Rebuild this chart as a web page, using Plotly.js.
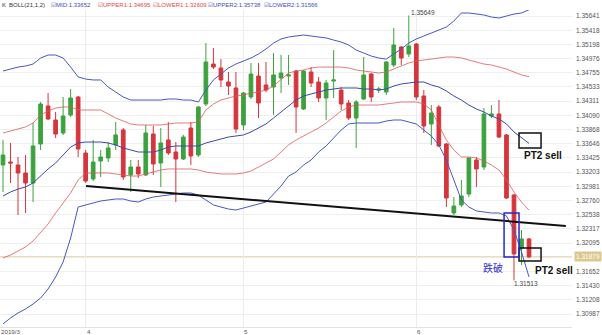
<!DOCTYPE html>
<html><head><meta charset="utf-8">
<script src="https://cdn.plot.ly/plotly-3.0.1.min.js"></script>
<style>html,body{margin:0;padding:0;background:#fff;}#chart{width:602px;height:335px;}</style>
</head><body><div id="chart"></div>
<script>
// ---- data ----
const openP = [1.33314,1.33361,1.33314,1.33189,1.33033,1.33642,1.34236,1.34017,1.33814,1.34095,
1.34376,1.33502,1.33096,1.33377,1.33424,1.33627,1.33861,1.33158,1.33283,1.33158,
1.33798,1.33345,1.33705,1.33517,1.33408,1.33892,1.33470,1.34267,1.34891,1.34829,
1.34610,1.34517,1.33939,1.34376,1.34704,1.34564,1.34532,1.34673,1.34704,1.34782,
1.34189,1.34767,1.34610,1.34361,1.34626,1.34485,1.34282,1.34048,1.34345,1.34735,
1.34485,1.34454,1.34876,1.35157,1.35048,1.35204,1.34392,1.33955,1.34220,1.33642,
1.32565,1.32690,1.32861,1.33392,1.33283,1.34079,1.34111,1.33783,1.32846,1.32018,1.32159];
const highP = [1.33705,1.33658,1.33439,1.33470,1.33970,1.34298,1.34439,1.34142,1.34376,1.34501,
1.34392,1.33548,1.33705,1.33548,1.33673,1.33986,1.33892,1.33392,1.33392,1.33939,
1.33923,1.33892,1.33986,1.33673,1.33783,1.33986,1.34236,1.35219,1.35141,1.34969,
1.34767,1.34767,1.34454,1.34907,1.34907,1.34923,1.35063,1.35032,1.35032,1.34798,
1.34798,1.34844,1.34689,1.34642,1.35110,1.34532,1.34329,1.34329,1.35001,1.34751,
1.34532,1.34938,1.35454,1.35173,1.35649,1.35219,1.34485,1.34251,1.34251,1.33658,
1.32814,1.33080,1.33439,1.33439,1.34204,1.34251,1.34329,1.33798,1.32861,1.32299,1.32174];
const lowP = [1.32893,1.33033,1.32533,1.32565,1.32736,1.33548,1.34017,1.33736,1.33783,1.34064,
1.33439,1.33033,1.33064,1.33127,1.33361,1.33548,1.33080,1.32893,1.33111,1.33142,
1.33158,1.32971,1.33470,1.32736,1.33392,1.33314,1.33439,1.34236,1.34813,1.34532,
1.34407,1.33814,1.33861,1.34345,1.34048,1.34454,1.34095,1.34439,1.34564,1.33814,
1.34173,1.34532,1.34298,1.34017,1.34361,1.34173,1.34017,1.33580,1.34329,1.34298,
1.34439,1.34407,1.34844,1.34876,1.35001,1.34329,1.33814,1.33627,1.33595,1.32658,
1.32533,1.32658,1.32814,1.32971,1.33236,1.34048,1.33736,1.32783,1.31513,1.31753,1.31862];
const closeP = [1.33470,1.33345,1.33189,1.33033,1.33611,1.34267,1.34033,1.33798,1.34079,1.34361,
1.33564,1.33064,1.33361,1.33439,1.33580,1.33783,1.33127,1.33283,1.33174,1.33814,
1.33330,1.33658,1.33502,1.33408,1.33751,1.33455,1.34220,1.34923,1.34844,1.34642,
1.34548,1.33876,1.34439,1.34735,1.34282,1.34485,1.34720,1.34751,1.34720,1.34220,
1.34782,1.34595,1.34361,1.34595,1.34642,1.34267,1.34048,1.34298,1.34720,1.34376,
1.34501,1.34923,1.35188,1.34985,1.35173,1.34376,1.33923,1.34126,1.33611,1.32799,
1.32674,1.32830,1.33424,1.33252,1.34111,1.34111,1.33751,1.32799,1.31924,1.32159,1.31879];

const upper2 = [1.34782,1.34813,1.34844,1.34860,1.34891,1.34985,1.35032,1.35032,1.34985,1.34844,
1.34689,1.34657,1.34642,1.34642,1.34532,1.34454,1.34376,1.34329,1.34329,1.34329,
1.34329,1.34329,1.34345,1.34345,1.34329,1.34329,1.34298,1.34485,1.34642,1.34735,
1.34829,1.34891,1.34938,1.34985,1.35048,1.35126,1.35219,1.35282,1.35313,1.35329,
1.35344,1.35329,1.35313,1.35298,1.35266,1.35235,1.35188,1.35110,1.35063,1.35016,
1.34985,1.34969,1.35048,1.35126,1.35219,1.35282,1.35329,1.35376,1.35422,1.35469,
1.35563,1.35688,1.35688,1.35672,1.35657,1.35625,1.35610,1.35641,1.35672,1.35688,1.35738];
const upper1 = [1.33814,1.33845,1.33876,1.33908,1.33970,1.34095,1.34158,1.34204,1.34220,1.34220,
1.34173,1.34173,1.34173,1.34173,1.34111,1.34048,1.34001,1.33955,1.33939,1.33939,
1.33939,1.33939,1.33955,1.33970,1.33970,1.33970,1.33986,1.34173,1.34267,1.34329,
1.34361,1.34392,1.34407,1.34439,1.34454,1.34485,1.34548,1.34642,1.34751,1.34782,
1.34798,1.34829,1.34844,1.34844,1.34844,1.34844,1.34829,1.34798,1.34782,1.34767,
1.34751,1.34767,1.34813,1.34860,1.34907,1.34938,1.34954,1.34969,1.34985,1.35001,
1.35001,1.34985,1.34954,1.34923,1.34891,1.34876,1.34844,1.34813,1.34767,1.34720,1.34695];
const mid = [1.32830,1.32893,1.32939,1.32971,1.33033,1.33142,1.33252,1.33345,1.33470,1.33595,
1.33658,1.33673,1.33673,1.33673,1.33658,1.33627,1.33580,1.33548,1.33517,1.33517,
1.33517,1.33548,1.33595,1.33611,1.33611,1.33611,1.33611,1.33658,1.33689,1.33720,
1.33751,1.33767,1.33783,1.33830,1.33892,1.33955,1.34048,1.34142,1.34236,1.34329,
1.34392,1.34423,1.34454,1.34485,1.34501,1.34517,1.34517,1.34517,1.34501,1.34501,
1.34485,1.34501,1.34548,1.34579,1.34595,1.34610,1.34610,1.34564,1.34532,1.34470,
1.34392,1.34329,1.34251,1.34189,1.34142,1.34079,1.34033,1.33955,1.33830,1.33736,1.33652];
const lower1 = [1.31862,1.31909,1.31971,1.32034,1.32127,1.32252,1.32393,1.32565,1.32721,1.32877,
1.33080,1.33189,1.33189,1.33189,1.33189,1.33174,1.33158,1.33142,1.33142,1.33174,
1.33205,1.33236,1.33252,1.33252,1.33252,1.33252,1.33236,1.33205,1.33189,1.33174,
1.33174,1.33174,1.33189,1.33220,1.33283,1.33345,1.33408,1.33517,1.33627,1.33705,
1.33767,1.33830,1.33892,1.33970,1.34064,1.34158,1.34220,1.34251,1.34251,1.34251,
1.34251,1.34267,1.34282,1.34298,1.34298,1.34298,1.34267,1.34173,1.33939,1.33705,
1.33548,1.33439,1.33439,1.33424,1.33377,1.33314,1.33236,1.33080,1.32893,1.32736,1.32609];
const lower2 = [1.30831,1.30925,1.31003,1.31065,1.31143,1.31237,1.31378,1.31565,1.31799,1.32174,
1.32658,1.32690,1.32721,1.32752,1.32768,1.32783,1.32783,1.32752,1.32736,1.32783,
1.32814,1.32830,1.32846,1.32861,1.32877,1.32877,1.32846,1.32768,1.32690,1.32658,
1.32627,1.32611,1.32643,1.32674,1.32705,1.32736,1.32861,1.32986,1.33142,1.33205,
1.33314,1.33392,1.33517,1.33611,1.33736,1.33861,1.33955,1.33970,1.33970,1.33970,
1.33970,1.34001,1.34017,1.34017,1.33986,1.33955,1.33861,1.33767,1.33627,1.33392,
1.33080,1.32768,1.32658,1.32596,1.32580,1.32565,1.32565,1.32518,1.32299,1.31956,1.31566];

const yTickVals = [1.35641,1.35418,1.35198,1.34976,1.34755,1.34533,1.34311,1.34090,1.33868,1.33646,
1.33425,1.33203,1.32981,1.32760,1.32538,1.32317,1.32095,1.31652,1.31430,1.31208,1.30987];
const xTickLabels = ['2019/3','4','5','6'];
const xTickIdx = [-0.4, 11, 32, 55];
const currentPrice = 1.31879;
const trendX = [11.05, 74.9];
const trendY = [1.32986, 1.32362];
const legendItems = [
  {t:'K', c:'#333'}, {t:'BOLL(21,1,2)', c:'#333'},
  {t:'\u2611MID:1.33652', c:'#3c4fc0'}, {t:'\u2611UPPER1:1.34695', c:'#e04848'},
  {t:'\u2611LOWER1:1.32609', c:'#e04848'}, {t:'\u2611UPPER2:1.35738', c:'#3c4fc0'},
  {t:'\u2611LOWER2:1.31566', c:'#3c4fc0'}];

// ---- drawing ----
const idx = openP.map((_, i) => i);
const GREEN = '#3da23d', RED = '#d6353c', BLUE = '#4658c2', PINK = '#dc5a5a';
const traces = [
  {type:'scatter', mode:'lines', x: idx, y: upper2, line:{color:BLUE, width:1}, hoverinfo:'skip'},
  {type:'scatter', mode:'lines', x: idx, y: lower2, line:{color:BLUE, width:1}, hoverinfo:'skip'},
  {type:'scatter', mode:'lines', x: idx, y: upper1, line:{color:PINK, width:0.8}, hoverinfo:'skip'},
  {type:'scatter', mode:'lines', x: idx, y: lower1, line:{color:PINK, width:0.8}, hoverinfo:'skip'},
  {type:'scatter', mode:'lines', x: idx, y: mid, line:{color:'#3a4aa8', width:1}, hoverinfo:'skip'},
  {type:'candlestick', x: idx, open: openP, high: highP, low: lowP, close: closeP,
   increasing:{line:{color:GREEN, width:1}, fillcolor:GREEN},
   decreasing:{line:{color:RED, width:1}, fillcolor:RED}, whiskerwidth:0, hoverinfo:'skip'},
  {type:'scatter', mode:'lines', x: trendX, y: trendY, line:{color:'#111', width:2}, hoverinfo:'skip'}
];

const last = idx.length - 1;
const shapes = [
  {type:'line', xref:'paper', x0:0, x1:1, yref:'y', y0:currentPrice, y1:currentPrice, line:{color:'#d8c89c', width:1}, layer:'below'},
  {type:'rect', xref:'x', yref:'y', x0:last-1.33, x1:last+1.6, y0:1.33580, y1:1.33814, line:{color:'#111', width:1.5}},
  {type:'rect', xref:'x', yref:'y', x0:last-1.33, x1:last+1.6, y0:1.31815, y1:1.32018, line:{color:'#111', width:1.5}},
  {type:'rect', xref:'x', yref:'y', x0:last-3.32, x1:last-1.33, y0:1.31878, y1:1.32565, line:{color:'#2828c8', width:1.5}}
];

const annotations = [];
const legendX = [1, 8, 50, 97, 152, 207, 263];
legendItems.forEach((it, i) => annotations.push({xref:'paper', yref:'paper', x: legendX[i]/572, y: 1 + 5/317,
  xanchor:'left', yanchor:'middle', text: it.t, showarrow:false, borderpad:0, font:{size:6, color: it.c}}));
xTickLabels.forEach((t, i) => annotations.push({xref:'x', yref:'paper', x: xTickIdx[i], y: 0, yshift:-4,
  xanchor:'left', yanchor:'middle', text: t, showarrow:false, borderpad:0, font:{size:6.2, color:'#555'}}));
const hiI = highP.indexOf(Math.max(...highP));
const loI = lowP.indexOf(Math.min(...lowP));
annotations.push({xref:'x', yref:'y', x: hiI + 0.15, y: highP[hiI], yshift: 3, xanchor:'left', yanchor:'middle',
  text: highP[hiI].toFixed(5), showarrow:false, borderpad:0, font:{size:6.5, color:'#444'}});
annotations.push({xref:'x', yref:'y', x: loI - 0.1, y: lowP[loI], yshift: -3, xanchor:'left', yanchor:'middle',
  text: lowP[loI].toFixed(5), showarrow:false, borderpad:0, font:{size:6.5, color:'#444'}});
annotations.push({xref:'x', yref:'y', x: last - 0.95, y: 1.33470, xanchor:'left', yanchor:'middle',
  text:'<b>PT2 sell</b>', showarrow:false, font:{size:10, color:'#111'}});
annotations.push({xref:'x', yref:'y', x: last + 0.5, y: 1.31674, xanchor:'left', yanchor:'middle',
  text:'<b>PT2 sell</b>', showarrow:false, font:{size:10, color:'#111'}});
annotations.push({xref:'x', yref:'y', x: last - 6.45, y: 1.31721, xanchor:'left', yanchor:'middle',
  text:'跌破', showarrow:false, font:{size:10, color:'#3333c8', family:'Noto Sans CJK SC'}});
annotations.push({xref:'paper', yref:'y', x: 1, xshift: 2, y: currentPrice, xanchor:'left', yanchor:'middle',
  text: currentPrice.toFixed(5), showarrow:false, bgcolor:'#dcc78c', borderpad:1, font:{size:6.5, color:'#fff'}});

const layout = {
  width: 602, height: 335,
  margin: {l:0, r:30, t:10, b:8, pad:0},
  paper_bgcolor:'#fff', plot_bgcolor:'#fff',
  showlegend:false,
  font:{family:'Liberation Sans, Arial, sans-serif', size:7, color:'#444'},
  xaxis:{range:[-0.4, 75.72], tickvals: xTickIdx.slice(1), showticklabels:false, ticks:'',
    showgrid:true, gridcolor:'#ececec', zeroline:false, showline:true, linecolor:'#e2e2e2',
    rangeslider:{visible:false}, fixedrange:true},
  yaxis:{range:[1.30784, 1.35735], side:'right', tickvals: yTickVals, ticktext: yTickVals.map(v => v.toFixed(5)),
    ticks:'', showgrid:true, gridcolor:'#efefef', zeroline:false, showline:false,
    tickfont:{size:6.5, color:'#555'}, ticklabelstandoff:3, fixedrange:true},
  shapes, annotations
};
Plotly.newPlot('chart', traces, layout, {staticPlot:true, displayModeBar:false});
</script></body></html>
